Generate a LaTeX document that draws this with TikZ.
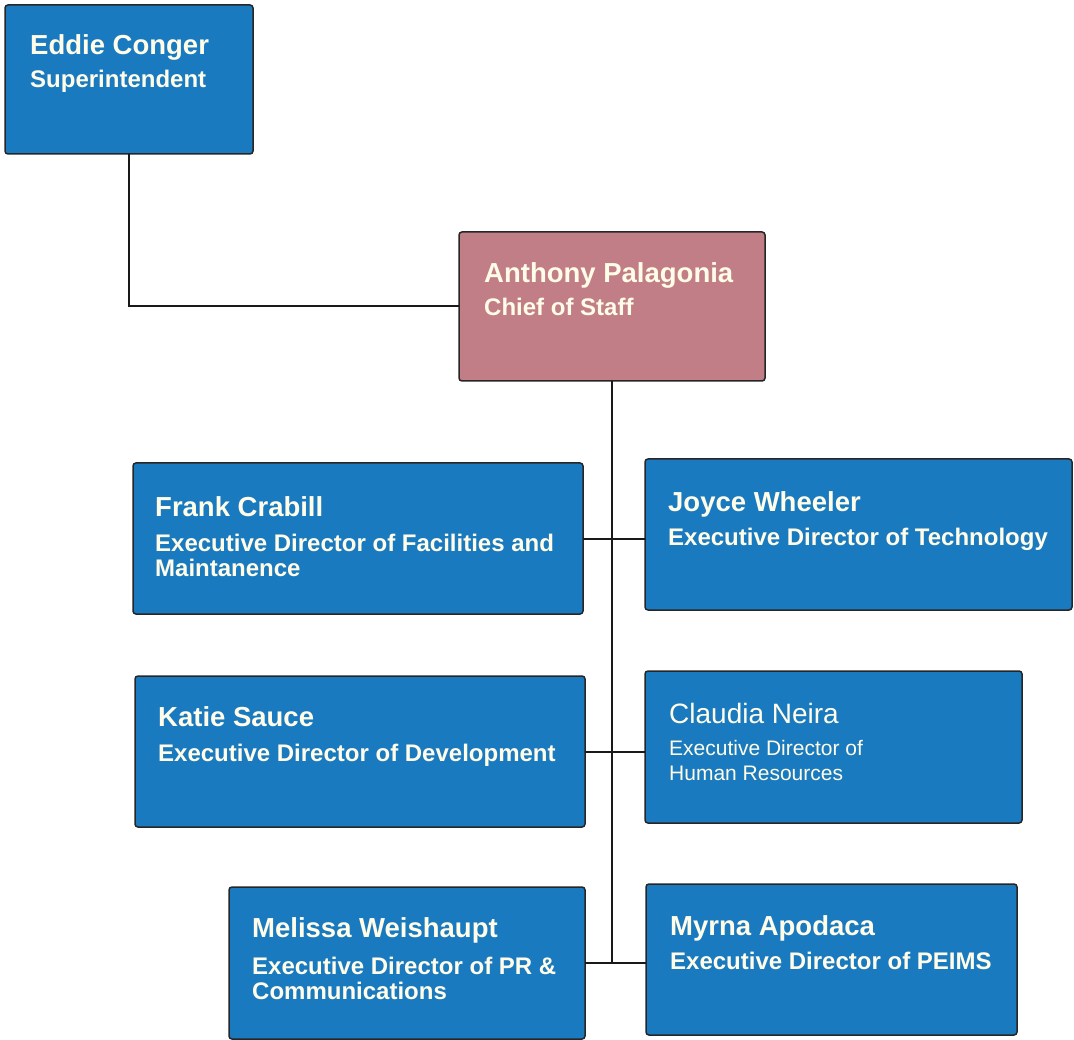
\documentclass[tikz,border=0pt]{standalone}
\usepackage{fontspec}
\setmainfont{Liberation Sans}
\definecolor{boxblue}{HTML}{1A7AC0}
\definecolor{boxrose}{HTML}{C27E86}
\definecolor{boxtext}{HTML}{FFFCE8}
\newcommand{\nmfont}{\fontsize{27.5}{30}\selectfont}
\newcommand{\ttlfont}{\fontsize{24}{25}\selectfont}
\begin{document}
\begin{tikzpicture}[x=1pt, y=1pt,
    card/.style={draw=black!85, line width=1.5pt, rounded corners=3pt, fill=boxblue, anchor=north west, inner sep=0pt, outer sep=0pt},
    cardtext/.style={text=boxtext, font=\bfseries\ttlfont, align=left, anchor=base west, inner sep=0pt},
    link/.style={line width=2pt, black!90}]
    \useasboundingbox[fill=white] (0,0) rectangle (1074,-1040);

    % Superintendente e chefe de gabinete (texto pela linha de base da ultima linha)
    \node[card, minimum width=248, minimum height=149] (eddie) at (5,-5) {};
    \node[cardtext] (eddie-t) at ([shift={(25,-83)}]eddie.north west) {{\nmfont Eddie Conger}\\[8pt]Superintendent};
    \node[card, fill=boxrose, minimum width=306, minimum height=149] (anthony) at (459,-232) {};
    \node[cardtext] (anthony-t) at ([shift={(25,-84)}]anthony.north west) {{\nmfont Anthony Palagonia}\\[8pt]Chief of Staff};

    % Diretores executivos
    \node[card, minimum width=450, minimum height=151] (frank) at (133,-463) {};
    \node[cardtext] (frank-t) at ([shift={(22,-113)}]frank.north west) {{\nmfont Frank Crabill}\\[10pt]Executive Director of Facilities and\\Maintanence};
    \node[card, minimum width=427, minimum height=151] (joyce) at (645,-459) {};
    \node[cardtext] (joyce-t) at ([shift={(23,-86)}]joyce.north west) {{\nmfont Joyce Wheeler}\\[9pt]Executive Director of Technology};
    \node[card, minimum width=450, minimum height=151] (katie) at (135,-676) {};
    \node[cardtext] (katie-t) at ([shift={(23,-85)}]katie.north west) {{\nmfont Katie Sauce}\\[10pt]Executive Director of Development};
    \node[card, minimum width=377, minimum height=152] (claudia) at (645,-671) {};
    \node[cardtext, font=\fontsize{21}{25}\selectfont] (claudia-t) at ([shift={(24,-109)}]claudia.north west) {{\fontsize{28}{30}\selectfont Claudia Neira}\\[7pt]Executive Director of\\Human Resources};
    \node[card, minimum width=356, minimum height=152] (melissa) at (229,-887) {};
    \node[cardtext] (melissa-t) at ([shift={(23,-112)}]melissa.north west) {{\nmfont Melissa Weishaupt}\\[12pt]Executive Director of PR \&\\Communications};
    \node[card, minimum width=371, minimum height=151] (myrna) at (646,-884) {};
    \node[cardtext] (myrna-t) at ([shift={(24,-85)}]myrna.north west) {{\nmfont Myrna Apodaca}\\[9pt]Executive Director of PEIMS};

    % Ligacoes
    \draw[link] (eddie.south) |- (anthony.west);
    \draw[link] (anthony.south) -- (anthony.south |- melissa.east);
    \draw[link] (frank.east) -- (joyce.west |- frank.east);
    \draw[link] (katie.east) -- (claudia.west |- katie.east);
    \draw[link] (melissa.east) -- (myrna.west |- melissa.east);
\end{tikzpicture}
\end{document}
